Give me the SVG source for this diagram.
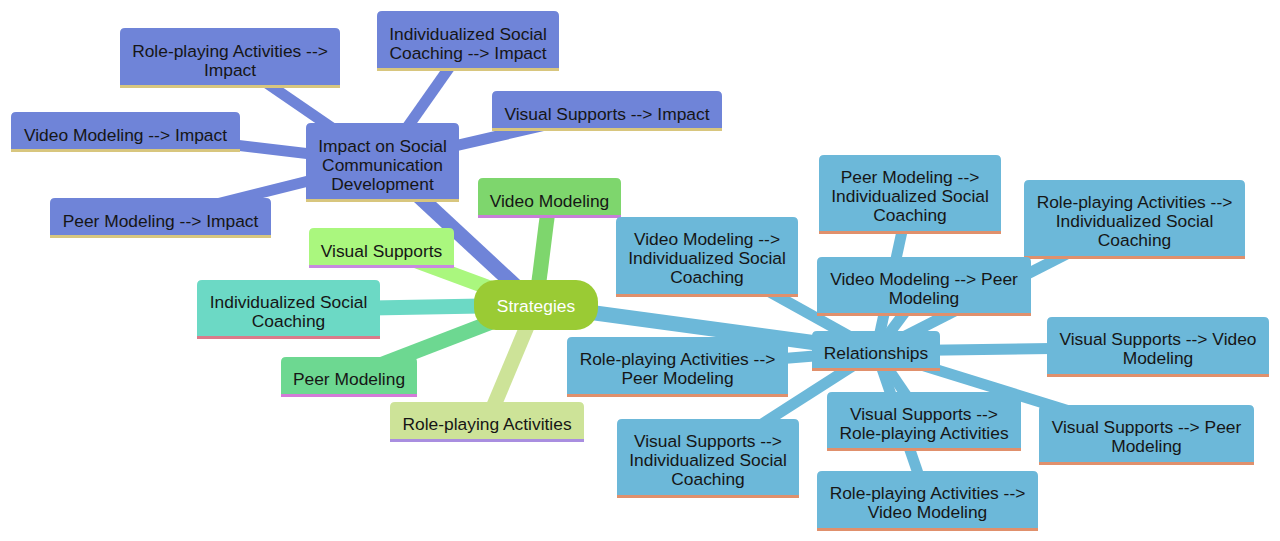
<svg xmlns="http://www.w3.org/2000/svg" width="1280" height="541" viewBox="0 0 1280 541">
<style>
.t{font-family:"Liberation Sans",Arial,sans-serif;font-size:17.4px;fill:#161616;text-anchor:middle}
.tw{fill:#ffffff}
.e{fill:none;stroke-linecap:butt}
.e0{stroke-width:15}
.e1{stroke-width:11}
.imp{fill:#6f84d8}
.impE{stroke:#6f84d8}
.impL{stroke:#d8c67e;stroke-width:3}
.rel{fill:#6cb8d9}
.relE{stroke:#6cb8d9}
.relL{stroke:#e0906c;stroke-width:3}
.bl{stroke-width:3}
</style>
<rect width="1280" height="541" fill="#ffffff"/>
<g id="connectors">
  <line class="e e0 impE" x1="536" y1="305" x2="382.5" y2="162.5"/>
  <line class="e e0" stroke="#7ed66d" x1="536" y1="305" x2="549.5" y2="198"/>
  <line class="e e0" stroke="#aaf77e" x1="536" y1="305" x2="381.5" y2="248"/>
  <line class="e e0" stroke="#6cd9c5" x1="536" y1="305" x2="288.5" y2="309.5"/>
  <line class="e e0" stroke="#6dd891" x1="536" y1="305" x2="349" y2="377"/>
  <line class="e e0" stroke="#cde398" x1="536" y1="305" x2="487" y2="422"/>
  <line class="e e0 relE" x1="536" y1="305" x2="876" y2="351"/>
  <line class="e e1 impE" x1="382.5" y1="162.5" x2="230" y2="58"/>
  <line class="e e1 impE" x1="382.5" y1="162.5" x2="468" y2="41"/>
  <line class="e e1 impE" x1="382.5" y1="162.5" x2="607" y2="111"/>
  <line class="e e1 impE" x1="382.5" y1="162.5" x2="125.5" y2="132"/>
  <line class="e e1 impE" x1="382.5" y1="162.5" x2="160.5" y2="218"/>
  <line class="e e1 relE" x1="876" y1="351" x2="707" y2="257"/>
  <line class="e e1 relE" x1="876" y1="351" x2="910" y2="194.5"/>
  <line class="e e1 relE" x1="876" y1="351" x2="1134.5" y2="219.5"/>
  <line class="e e1 relE" x1="876" y1="351" x2="924" y2="286.5"/>
  <line class="e e1 relE" x1="876" y1="351" x2="1158" y2="347"/>
  <line class="e e1 relE" x1="876" y1="351" x2="677.5" y2="367"/>
  <line class="e e1 relE" x1="876" y1="351" x2="924" y2="421.5"/>
  <line class="e e1 relE" x1="876" y1="351" x2="1146.5" y2="435"/>
  <line class="e e1 relE" x1="876" y1="351" x2="708" y2="458.5"/>
  <line class="e e1 relE" x1="876" y1="351" x2="927.5" y2="501"/>
</g>

<g id="root-strategies">
  <rect x="474" y="280" width="124" height="50" rx="22" fill="#9acb34"/>
  <text class="t tw" x="536" y="312">Strategies</text>
</g>

<g id="impact">
  <path class="imp" d="M306,202 V128 Q306,123 311,123 H454 Q459,123 459,128 V202 Z"/>
  <line class="impL" x1="306" y1="200.5" x2="459" y2="200.5"/>
  <text class="t" x="382.5" y="151.5">Impact on Social</text>
  <text class="t" x="382.5" y="170.5">Communication</text>
  <text class="t" x="382.5" y="189.5">Development</text>
</g>
<g id="impact-roleplaying">
  <path class="imp" d="M120,88 V33 Q120,28 125,28 H335 Q340,28 340,33 V88 Z"/>
  <line class="impL" x1="120" y1="86.5" x2="340" y2="86.5"/>
  <text class="t" x="230" y="56.5">Role-playing Activities --&gt;</text>
  <text class="t" x="230" y="75.5">Impact</text>
</g>
<g id="impact-isc">
  <path class="imp" d="M377,71 V16 Q377,11 382,11 H554 Q559,11 559,16 V71 Z"/>
  <line class="impL" x1="377" y1="69.5" x2="559" y2="69.5"/>
  <text class="t" x="468" y="39.5">Individualized Social</text>
  <text class="t" x="468" y="58.5">Coaching --&gt; Impact</text>
</g>
<g id="impact-visual">
  <path class="imp" d="M492,131 V96 Q492,91 497,91 H717 Q722,91 722,96 V131 Z"/>
  <line class="impL" x1="492" y1="129.5" x2="722" y2="129.5"/>
  <text class="t" x="607" y="119.5">Visual Supports --&gt; Impact</text>
</g>
<g id="impact-video">
  <path class="imp" d="M11,152 V117 Q11,112 16,112 H235 Q240,112 240,117 V152 Z"/>
  <line class="impL" x1="11" y1="150.5" x2="240" y2="150.5"/>
  <text class="t" x="125.5" y="140.5">Video Modeling --&gt; Impact</text>
</g>
<g id="impact-peer">
  <path class="imp" d="M50,238 V203 Q50,198 55,198 H266 Q271,198 271,203 V238 Z"/>
  <line class="impL" x1="50" y1="236.5" x2="271" y2="236.5"/>
  <text class="t" x="160.5" y="226.5">Peer Modeling --&gt; Impact</text>
</g>

<g id="video-modeling">
  <path fill="#7ed66d" d="M478,218 V183 Q478,178 483,178 H616 Q621,178 621,183 V218 Z"/>
  <line class="bl" stroke="#c87fd8" x1="478" y1="216.5" x2="621" y2="216.5"/>
  <text class="t" x="549.5" y="206.5">Video Modeling</text>
</g>
<g id="visual-supports">
  <path fill="#aaf77e" d="M309,268 V233 Q309,228 314,228 H449 Q454,228 454,233 V268 Z"/>
  <line class="bl" stroke="#c88ae0" x1="309" y1="266.5" x2="454" y2="266.5"/>
  <text class="t" x="381.5" y="256.5">Visual Supports</text>
</g>
<g id="isc">
  <path fill="#6cd9c5" d="M197,339 V285 Q197,280 202,280 H375 Q380,280 380,285 V339 Z"/>
  <line class="bl" stroke="#dc7a8a" x1="197" y1="337.5" x2="380" y2="337.5"/>
  <text class="t" x="288.5" y="307.5">Individualized Social</text>
  <text class="t" x="288.5" y="326.5">Coaching</text>
</g>
<g id="peer-modeling">
  <path fill="#6dd891" d="M281,397 V362 Q281,357 286,357 H412 Q417,357 417,362 V397 Z"/>
  <line class="bl" stroke="#d47ad8" x1="281" y1="395.5" x2="417" y2="395.5"/>
  <text class="t" x="349" y="385">Peer Modeling</text>
</g>
<g id="role-playing">
  <path fill="#cde398" d="M390,442 V407 Q390,402 395,402 H579 Q584,402 584,407 V442 Z"/>
  <line class="bl" stroke="#a98ee0" x1="390" y1="440.5" x2="584" y2="440.5"/>
  <text class="t" x="487" y="430">Role-playing Activities</text>
</g>

<g id="relationships">
  <path class="rel" d="M812,371 V336 Q812,331 817,331 H935 Q940,331 940,336 V371 Z"/>
  <line class="relL" x1="812" y1="369.5" x2="940" y2="369.5"/>
  <text class="t" x="876" y="359">Relationships</text>
</g>
<g id="rel-video-isc">
  <path class="rel" d="M616,297 V222 Q616,217 621,217 H793 Q798,217 798,222 V297 Z"/>
  <line class="relL" x1="616" y1="295.5" x2="798" y2="295.5"/>
  <text class="t" x="707" y="245">Video Modeling --&gt;</text>
  <text class="t" x="707" y="264">Individualized Social</text>
  <text class="t" x="707" y="283">Coaching</text>
</g>
<g id="rel-peer-isc">
  <path class="rel" d="M819,234 V160 Q819,155 824,155 H996 Q1001,155 1001,160 V234 Z"/>
  <line class="relL" x1="819" y1="232.5" x2="1001" y2="232.5"/>
  <text class="t" x="910" y="183">Peer Modeling --&gt;</text>
  <text class="t" x="910" y="202">Individualized Social</text>
  <text class="t" x="910" y="221">Coaching</text>
</g>
<g id="rel-role-isc">
  <path class="rel" d="M1024,259 V185 Q1024,180 1029,180 H1240 Q1245,180 1245,185 V259 Z"/>
  <line class="relL" x1="1024" y1="257.5" x2="1245" y2="257.5"/>
  <text class="t" x="1134.5" y="208">Role-playing Activities --&gt;</text>
  <text class="t" x="1134.5" y="227">Individualized Social</text>
  <text class="t" x="1134.5" y="246">Coaching</text>
</g>
<g id="rel-video-peer">
  <path class="rel" d="M817,316 V262 Q817,257 822,257 H1026 Q1031,257 1031,262 V316 Z"/>
  <line class="relL" x1="817" y1="314.5" x2="1031" y2="314.5"/>
  <text class="t" x="924" y="285">Video Modeling --&gt; Peer</text>
  <text class="t" x="924" y="304">Modeling</text>
</g>
<g id="rel-visual-video">
  <path class="rel" d="M1047,377 V322 Q1047,317 1052,317 H1264 Q1269,317 1269,322 V377 Z"/>
  <line class="relL" x1="1047" y1="375.5" x2="1269" y2="375.5"/>
  <text class="t" x="1158" y="345">Visual Supports --&gt; Video</text>
  <text class="t" x="1158" y="364">Modeling</text>
</g>
<g id="rel-role-peer">
  <path class="rel" d="M567,397 V342 Q567,337 572,337 H783 Q788,337 788,342 V397 Z"/>
  <line class="relL" x1="567" y1="395.5" x2="788" y2="395.5"/>
  <text class="t" x="677.5" y="365">Role-playing Activities --&gt;</text>
  <text class="t" x="677.5" y="384">Peer Modeling</text>
</g>
<g id="rel-visual-role">
  <path class="rel" d="M827,451 V397 Q827,392 832,392 H1016 Q1021,392 1021,397 V451 Z"/>
  <line class="relL" x1="827" y1="449.5" x2="1021" y2="449.5"/>
  <text class="t" x="924" y="420">Visual Supports --&gt;</text>
  <text class="t" x="924" y="439">Role-playing Activities</text>
</g>
<g id="rel-visual-peer">
  <path class="rel" d="M1039,465 V410 Q1039,405 1044,405 H1249 Q1254,405 1254,410 V465 Z"/>
  <line class="relL" x1="1039" y1="463.5" x2="1254" y2="463.5"/>
  <text class="t" x="1146.5" y="433">Visual Supports --&gt; Peer</text>
  <text class="t" x="1146.5" y="452">Modeling</text>
</g>
<g id="rel-visual-isc">
  <path class="rel" d="M617,498 V424 Q617,419 622,419 H794 Q799,419 799,424 V498 Z"/>
  <line class="relL" x1="617" y1="496.5" x2="799" y2="496.5"/>
  <text class="t" x="708" y="447">Visual Supports --&gt;</text>
  <text class="t" x="708" y="466">Individualized Social</text>
  <text class="t" x="708" y="485">Coaching</text>
</g>
<g id="rel-role-video">
  <path class="rel" d="M817,531 V476 Q817,471 822,471 H1033 Q1038,471 1038,476 V531 Z"/>
  <line class="relL" x1="817" y1="529.5" x2="1038" y2="529.5"/>
  <text class="t" x="927.5" y="499">Role-playing Activities --&gt;</text>
  <text class="t" x="927.5" y="518">Video Modeling</text>
</g>
</svg>
